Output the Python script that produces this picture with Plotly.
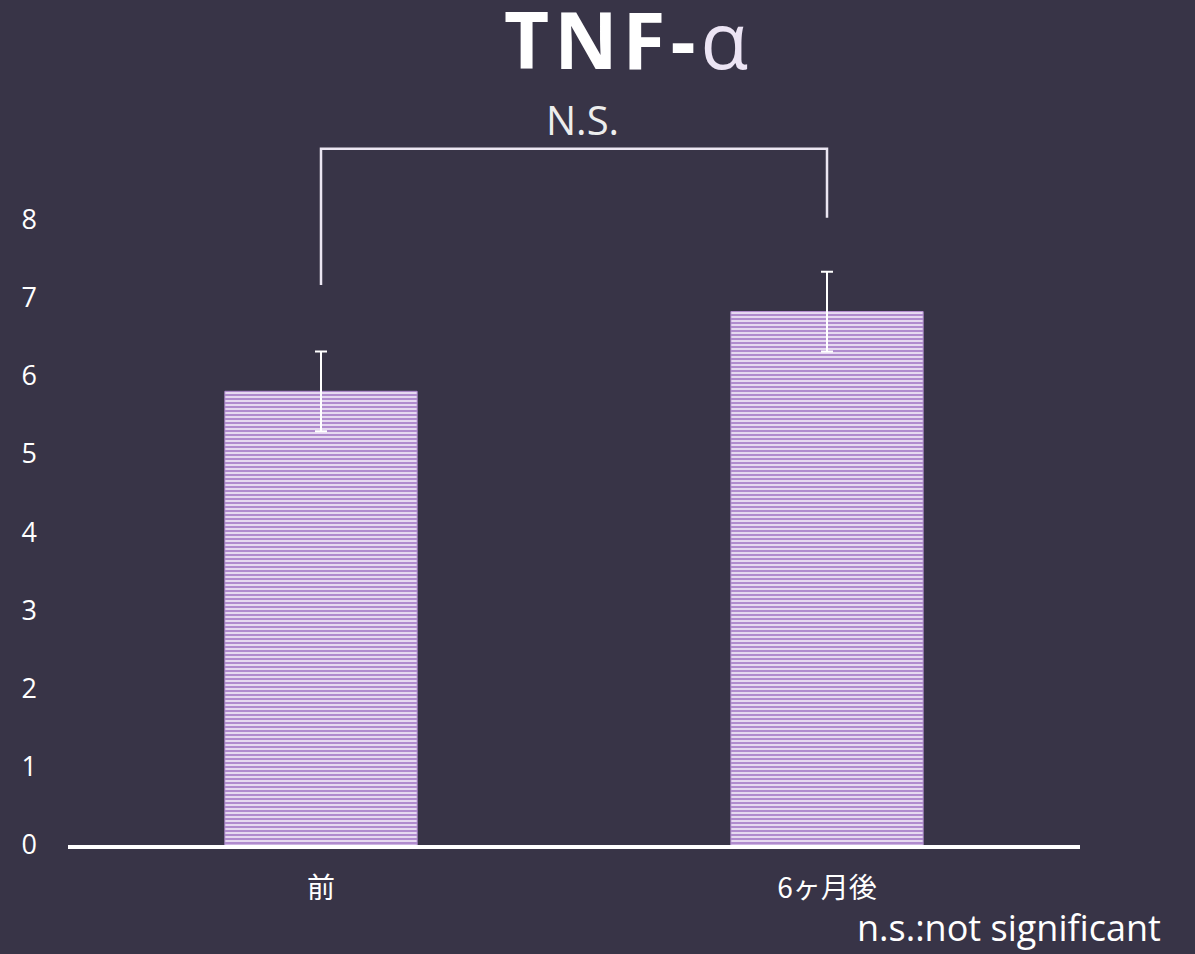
import plotly.graph_objects as go

# データ
categories = ['前', '6ヶ月後']
means = [5.8, 6.82]
errors = [0.51, 0.51]
y_ticks = [0, 1, 2, 3, 4, 5, 6, 7, 8]

# 有意差ブラケット (x: カテゴリ, y: 値)
bracket_x = ['前', '前', '6ヶ月後', '6ヶ月後']
bracket_y = [7.16, 8.9, 8.9, 8.02]

BG = '#383447'
FONT = 'Open Sans, Noto Sans, sans-serif'
CJK = 'Noto Sans CJK JP'

fig = go.Figure()

fig.add_trace(go.Bar(
    x=categories,
    y=means,
    error_y=dict(type='data', array=errors, color='white', thickness=2, width=6),
    marker=dict(
        color='#e6daf1',
        pattern=dict(shape='-', fgcolor='#b08bce', bgcolor='#ece2f4',
                     size=4, solidity=0.55, fillmode='replace'),
        line=dict(color='#b590d2', width=1),
    ),
    width=0.38,
    showlegend=False,
    hoverinfo='skip',
))

fig.add_trace(go.Scatter(
    x=bracket_x,
    y=bracket_y,
    mode='lines',
    line=dict(color='#ebe6f2', width=2.5),
    showlegend=False,
    hoverinfo='skip',
    cliponaxis=False,
))

fig.add_annotation(x=0.5, y=8.9, xref='x', yref='y', text='N.S.',
                   showarrow=False, yanchor='bottom', yshift=0, xshift=8,
                   font=dict(family=FONT, size=40, color='#ededed'))

fig.add_annotation(x=0.551, y=1.145, xref='paper', yref='paper',
                   text='<b><span style="letter-spacing:5px">TNF-</span></b><span style="color:#ece4f4">α</span>',
                   showarrow=False, yanchor='middle',
                   font=dict(family=FONT, size=78, color='white'))

fig.add_annotation(x=1.082, y=-0.117, xref='paper', yref='paper', text='n.s.:not significant',
                   showarrow=False, xanchor='right', yanchor='middle',
                   font=dict(family=FONT, size=36, color='white'))

fig.update_layout(
    width=1195, height=954,
    paper_bgcolor=BG, plot_bgcolor=BG,
    margin=dict(l=68, r=115, t=141, b=109),
    xaxis=dict(
        type='category',
        showline=True, linecolor='white', linewidth=4,
        showgrid=False, zeroline=False, ticks='',
        tickfont=dict(family=CJK, size=28, color='white'),
        ticklabelstandoff=15,
    ),
    yaxis=dict(
        range=[0, 9],
        tickvals=y_ticks,
        showgrid=False, zeroline=False, showline=False, ticks='',
        tickfont=dict(family=FONT, size=27, color='white'),
        ticklabelstandoff=30,
    ),
)

fig.write_html("out.html", config={'displayModeBar': False},
               post_script="document.body.style.margin='0';")
